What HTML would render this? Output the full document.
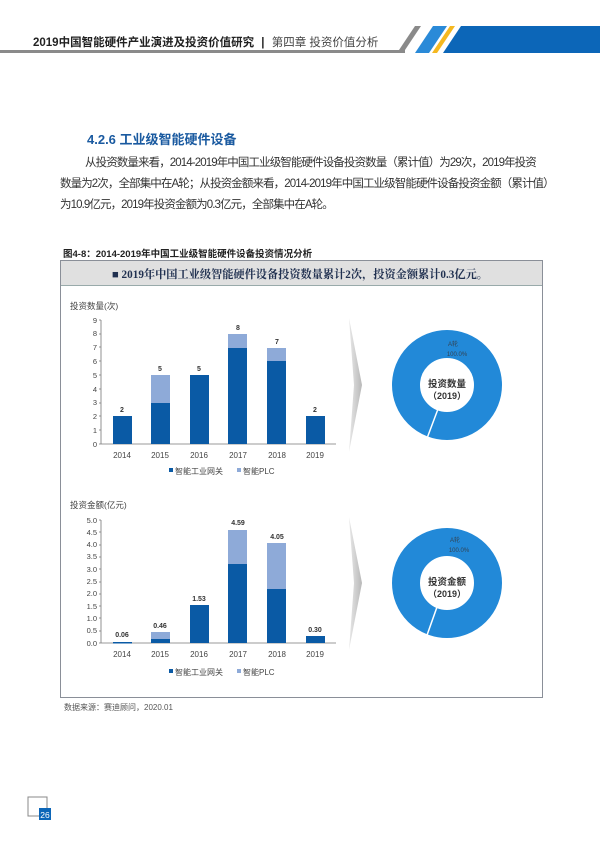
<!DOCTYPE html>
<html><head><meta charset="utf-8"><style>
body{margin:0;width:600px;height:851px;background:#fff;position:relative;font-family:"Liberation Sans","Noto Sans CJK SC",sans-serif;overflow:hidden}
.a{position:absolute;white-space:nowrap}
</style></head><body>
<div class="a" style="left:33px;top:34px;font-size:11.5px;font-weight:bold;color:#222">2019中国智能硬件产业演进及投资价值研究 <span style="margin:0 4px">|</span> <span style="font-weight:normal;color:#444">第四章 投资价值分析</span></div>
<div class="a" style="left:0;top:50px;width:405px;height:3px;background:#8a8a8a"></div>
<svg class="a" style="left:395px;top:26px" width="205" height="28">
<polygon points="20,0 26,0 8,27 2,27" fill="#8a8a8a"/>
<polygon points="38,0 52,0 34,27 20,27" fill="#2a8ad8"/>
<polygon points="55,0 60,0 42,27 37,27" fill="#f5b820"/>
<polygon points="66,0 205,0 205,27 48,27" fill="#0c66b8"/>
</svg>
<div class="a" style="left:87px;top:129px;font-size:13px;font-weight:bold;color:#1a5aa0">4.2.6 工业级智能硬件设备</div>
<div class="a" style="left:60px;top:153px;font-size:11.5px;color:#333;line-height:21px;letter-spacing:-0.9px">
<div style="padding-left:25px">从投资数量来看，2014-2019年中国工业级智能硬件设备投资数量（累计值）为29次，2019年投资</div>
<div>数量为2次，全部集中在A轮；从投资金额来看，2014-2019年中国工业级智能硬件设备投资金额（累计值）</div>
<div>为10.9亿元，2019年投资金额为0.3亿元，全部集中在A轮。</div></div>
<div class="a" style="left:63px;top:246px;font-size:9.5px;font-weight:bold;color:#222">图4-8：2014-2019年中国工业级智能硬件设备投资情况分析</div>
<div class="a" style="left:60px;top:260px;width:481px;height:436px;border:1px solid #8a8f98"></div>
<div class="a" style="left:61px;top:261px;width:481px;height:24px;background:#e0e0e0;border-bottom:1px solid #9aa"></div>
<div class="a" style="left:112px;top:266px;font-size:11.2px;font-weight:bold;color:#203050;font-family:'Liberation Serif','Noto Serif CJK SC',serif">■ 2019年中国工业级智能硬件设备投资数量累计2次，投资金额累计0.3亿元。</div>
<svg class="a" style="left:0;top:0" width="600" height="851" font-family="Liberation Sans,Noto Sans CJK SC,sans-serif">
<defs><linearGradient id="g" x1="0" x2="1"><stop offset="0" stop-color="#e8e8e8"/><stop offset="1" stop-color="#b8b8b8"/></linearGradient></defs>
<text x="70" y="309" font-size="8.5" fill="#444">投资数量(次)</text>
<g font-size="7.5" fill="#444" text-anchor="end">
<text x="97" y="447">0</text><text x="97" y="433">1</text><text x="97" y="419">2</text><text x="97" y="405">3</text><text x="97" y="392">4</text><text x="97" y="378">5</text><text x="97" y="364">6</text><text x="97" y="350">7</text><text x="97" y="336">8</text><text x="97" y="323">9</text></g>
<g stroke="#777" stroke-width="0.8"><line x1="101" y1="320" x2="101" y2="444"/><line x1="101" y1="444" x2="336" y2="444"/>
<path d="M99 444h2M99 430h2M99 416h2M99 403h2M99 389h2M99 375h2M99 361h2M99 347h2M99 334h2M99 320h2"/></g>
<g fill="#0a5aa5"><rect x="113" y="416" width="19" height="28"/><rect x="151" y="403" width="19" height="41"/><rect x="190" y="375" width="19" height="69"/><rect x="228" y="348" width="19" height="96"/><rect x="267" y="361" width="19" height="83"/><rect x="306" y="416" width="19" height="28"/></g>
<g fill="#8eaad8"><rect x="151" y="375" width="19" height="28"/><rect x="228" y="334" width="19" height="14"/><rect x="267" y="348" width="19" height="13"/></g>
<g font-size="7" font-weight="bold" fill="#333" text-anchor="middle"><text x="122" y="412">2</text><text x="160" y="371">5</text><text x="199" y="371">5</text><text x="238" y="330">8</text><text x="277" y="344">7</text><text x="315" y="412">2</text></g>
<g font-size="8" fill="#444" text-anchor="middle"><text x="122" y="458">2014</text><text x="160" y="458">2015</text><text x="199" y="458">2016</text><text x="238" y="458">2017</text><text x="277" y="458">2018</text><text x="315" y="458">2019</text></g>
<rect x="169" y="468" width="4" height="4" fill="#0a5aa5"/><text x="175" y="474" font-size="8" fill="#444">智能工业网关</text>
<rect x="237" y="468" width="4" height="4" fill="#8eaad8"/><text x="243" y="474" font-size="8" fill="#444">智能PLC</text>

<text x="70" y="508" font-size="8.5" fill="#444">投资金额(亿元)</text>
<g font-size="7.5" fill="#444" text-anchor="end">
<text x="97" y="646">0.0</text><text x="97" y="633">0.5</text><text x="97" y="621">1.0</text><text x="97" y="609">1.5</text><text x="97" y="596">2.0</text><text x="97" y="584">2.5</text><text x="97" y="572">3.0</text><text x="97" y="559">3.5</text><text x="97" y="547">4.0</text><text x="97" y="535">4.5</text><text x="97" y="523">5.0</text></g>
<g stroke="#777" stroke-width="0.8"><line x1="101" y1="520" x2="101" y2="643"/><line x1="101" y1="643" x2="336" y2="643"/>
<path d="M99 643h2M99 631h2M99 618h2M99 606h2M99 594h2M99 582h2M99 569h2M99 557h2M99 545h2M99 532h2M99 520h2"/></g>
<g fill="#0a5aa5"><rect x="113" y="642" width="19" height="1.5"/><rect x="151" y="639" width="19" height="4"/><rect x="190" y="605" width="19" height="38"/><rect x="228" y="564" width="19" height="79"/><rect x="267" y="589" width="19" height="54"/><rect x="306" y="636" width="19" height="7"/></g>
<g fill="#8eaad8"><rect x="151" y="632" width="19" height="7"/><rect x="228" y="530" width="19" height="34"/><rect x="267" y="543" width="19" height="46"/></g>
<g font-size="7" font-weight="bold" fill="#333" text-anchor="middle"><text x="122" y="637">0.06</text><text x="160" y="628">0.46</text><text x="199" y="601">1.53</text><text x="238" y="525">4.59</text><text x="277" y="539">4.05</text><text x="315" y="632">0.30</text></g>
<g font-size="8" fill="#444" text-anchor="middle"><text x="122" y="657">2014</text><text x="160" y="657">2015</text><text x="199" y="657">2016</text><text x="238" y="657">2017</text><text x="277" y="657">2018</text><text x="315" y="657">2019</text></g>
<rect x="169" y="669" width="4" height="4" fill="#0a5aa5"/><text x="175" y="675" font-size="8" fill="#444">智能工业网关</text>
<rect x="237" y="669" width="4" height="4" fill="#8eaad8"/><text x="243" y="675" font-size="8" fill="#444">智能PLC</text>

<polygon points="349,318 362,385 349,452 354,385" fill="url(#g)"/>
<polygon points="349,517 362,583 349,650 354,583" fill="url(#g)"/>

<circle cx="447" cy="385" r="41" fill="none" stroke="#2289d8" stroke-width="28"/>
<line x1="438" y1="409" x2="426" y2="441" stroke="#fff" stroke-width="1.5"/>
<text x="453" y="346" font-size="6" fill="#345" text-anchor="middle">A轮</text><text x="457" y="356" font-size="6" fill="#345" text-anchor="middle">100.0%</text>
<text x="447" y="387" font-size="9.5" font-weight="bold" fill="#333" text-anchor="middle">投资数量</text>
<text x="447" y="399" font-size="9" font-weight="bold" fill="#333" text-anchor="middle">（2019）</text>

<circle cx="447" cy="583" r="41" fill="none" stroke="#2289d8" stroke-width="28"/>
<line x1="437" y1="607" x2="426" y2="638" stroke="#fff" stroke-width="1.5"/>
<text x="455" y="542" font-size="6" fill="#345" text-anchor="middle">A轮</text><text x="459" y="552" font-size="6" fill="#345" text-anchor="middle">100.0%</text>
<text x="447" y="585" font-size="9.5" font-weight="bold" fill="#333" text-anchor="middle">投资金额</text>
<text x="447" y="597" font-size="9" font-weight="bold" fill="#333" text-anchor="middle">（2019）</text>

<text x="64" y="710" font-size="8" fill="#555">数据来源：赛迪顾问，2020.01</text>
<rect x="28" y="797" width="19" height="19" fill="none" stroke="#888" stroke-width="1"/>
<rect x="39" y="808" width="12" height="12" fill="#0c66b8"/>
<text x="45" y="818" font-size="8.5" fill="#fff" text-anchor="middle">26</text>
</svg>
</body></html>
